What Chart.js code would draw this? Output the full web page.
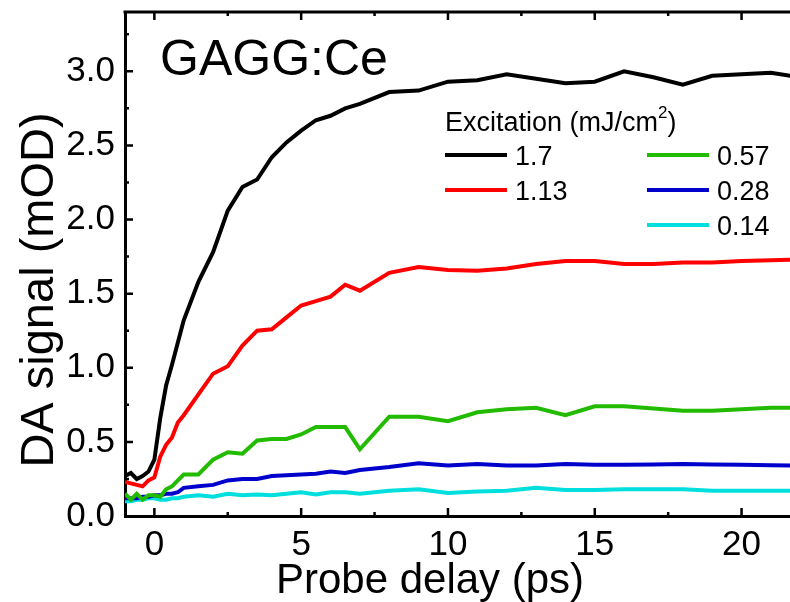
<!DOCTYPE html>
<html lang="en">
<head>
    <meta charset="UTF-8">
    <title>GAGG:Ce DA signal</title>
    <script src="https://cdn.jsdelivr.net/npm/chart.js@4.4.1/dist/chart.umd.min.js"></script>
    <style>
        body { margin: 0; background: #fff; }
    </style>
</head>
<body>
    <canvas id="daChart" width="790" height="602"></canvas>

    <script>
        // probe delay in ps, shared by all series
        const delay = [-1, -0.8, -0.6, -0.4, -0.2, 0, 0.2, 0.4, 0.6, 0.8, 1, 1.5, 2, 2.5, 3, 3.5, 4, 4.5, 5, 5.5,
                       6, 6.5, 7, 8, 9, 10, 11, 12, 13, 14, 15, 16, 17, 18, 19, 20, 21, 22];

        // DA signal (mOD) for each excitation fluence
        const sig170 = [0.27, 0.29, 0.25, 0.27, 0.30, 0.38, 0.66, 0.88, 1.02, 1.17, 1.32, 1.58, 1.78, 2.06, 2.22, 2.27, 2.42, 2.52, 2.60, 2.67,
                        2.70, 2.75, 2.78, 2.86, 2.87, 2.93, 2.94, 2.98, 2.95, 2.92, 2.93, 3.00, 2.96, 2.91, 2.97, 2.98, 2.99, 2.96];
        const sig113 = [0.23, 0.22, 0.21, 0.20, 0.24, 0.26, 0.40, 0.48, 0.53, 0.63, 0.68, 0.82, 0.96, 1.01, 1.15, 1.25, 1.26, 1.34, 1.42, 1.45,
                        1.48, 1.56, 1.52, 1.64, 1.68, 1.66, 1.655, 1.67, 1.70, 1.72, 1.72, 1.70, 1.70, 1.71, 1.71, 1.72, 1.725, 1.73];
        const sig057 = [0.15, 0.11, 0.15, 0.11, 0.14, 0.14, 0.13, 0.18, 0.20, 0.24, 0.28, 0.28, 0.38, 0.43, 0.42, 0.51, 0.52, 0.52, 0.55, 0.60,
                        0.60, 0.60, 0.45, 0.67, 0.67, 0.64, 0.70, 0.72, 0.73, 0.68, 0.74, 0.74, 0.725, 0.71, 0.71, 0.72, 0.73, 0.73];
        const sig028 = [0.12, 0.12, 0.12, 0.13, 0.13, 0.14, 0.14, 0.15, 0.15, 0.16, 0.19, 0.20, 0.21, 0.24, 0.25, 0.25, 0.27, 0.275, 0.28, 0.285,
                        0.30, 0.29, 0.31, 0.33, 0.355, 0.34, 0.35, 0.34, 0.34, 0.35, 0.345, 0.345, 0.348, 0.35, 0.347, 0.345, 0.343, 0.34];
        const sig014 = [0.10, 0.10, 0.11, 0.11, 0.12, 0.12, 0.11, 0.11, 0.12, 0.12, 0.13, 0.14, 0.13, 0.15, 0.14, 0.145, 0.14, 0.15, 0.16, 0.145,
                        0.16, 0.16, 0.15, 0.17, 0.18, 0.155, 0.165, 0.17, 0.19, 0.175, 0.175, 0.18, 0.18, 0.18, 0.17, 0.17, 0.17, 0.17];

        const seriesLabels = ["1.7", "1.13", "0.57", "0.28", "0.14"];
        const seriesColors = ["#000000", "#ff0000", "#22bb00", "#0000cc", "#00dede"];
        const seriesValues = [sig170, sig113, sig057, sig028, sig014];

        const xTicks = [0, 5, 10, 15, 20];
        const yTicks = [0, 0.5, 1.0, 1.5, 2.0, 2.5, 3.0];

        const FONT = "'Liberation Sans', Arial, sans-serif";

        function toPoints(values) {
            return values.map((v, i) => ({ x: delay[i], y: v }));
        }

        // keep the plot box fixed, whatever the edge labels need
        function noEdgePadding(scale) {
            scale.paddingTop = 0;
            scale.paddingBottom = 0;
            scale.paddingLeft = 0;
            scale.paddingRight = 0;
        }

        // inward ticks, top frame line, titles, sample label and the legend
        const decorations = {
            id: "decorations",
            afterDraw(chart) {
                const { ctx, chartArea: a, scales } = chart;
                const xs = scales.x, ys = scales.y;
                ctx.save();
                ctx.strokeStyle = "#000";
                ctx.lineWidth = 3;
                ctx.beginPath();
                ctx.moveTo(a.left - 1.5, a.top);
                ctx.lineTo(a.right, a.top);
                ctx.stroke();

                ctx.lineWidth = 2.5;
                ctx.beginPath();
                for (let v = 0; v <= 21.6; v += 2.5) {
                    const px = xs.getPixelForValue(v);
                    const len = (v % 5 === 0) ? 8 : 4;
                    ctx.moveTo(px, a.bottom);
                    ctx.lineTo(px, a.bottom - len);
                    ctx.moveTo(px, a.top);
                    ctx.lineTo(px, a.top + len);
                }
                for (let k = 1; k <= 13; k++) {
                    const v = k * 0.25;
                    const py = ys.getPixelForValue(v);
                    const len = (k % 2 === 0) ? 8 : 4;
                    ctx.moveTo(a.left, py);
                    ctx.lineTo(a.left + len, py);
                }
                ctx.stroke();

                ctx.fillStyle = "#000";
                // axis titles
                ctx.font = "42px " + FONT;
                ctx.textAlign = "center";
                ctx.textBaseline = "alphabetic";
                ctx.fillText("Probe delay (ps)", 430, 593);

                ctx.save();
                ctx.translate(53, 290);
                ctx.rotate(-Math.PI / 2);
                ctx.font = "47px " + FONT;
                ctx.fillText("DA signal (mOD)", 0, 0);
                ctx.restore();

                // sample label
                ctx.textAlign = "left";
                ctx.font = "50px " + FONT;
                ctx.fillText("GAGG:Ce", 160, 75);

                // legend
                ctx.font = "27px " + FONT;
                const head = "Excitation (mJ/cm";
                ctx.fillText(head, 445, 131);
                let hx = 445 + ctx.measureText(head).width;
                ctx.font = "17px " + FONT;
                ctx.fillText("2", hx, 118);
                hx += ctx.measureText("2").width;
                ctx.font = "27px " + FONT;
                ctx.fillText(")", hx, 131);

                const slots = [[445, 155], [445, 190], [647, 155], [647, 190], [647, 225]];
                ctx.font = "27px " + FONT;
                ctx.lineWidth = 4;
                chart.data.datasets.forEach((ds, i) => {
                    const [lx, ly] = slots[i];
                    ctx.strokeStyle = ds.borderColor;
                    ctx.beginPath();
                    ctx.moveTo(lx, ly);
                    ctx.lineTo(lx + 62, ly);
                    ctx.stroke();
                    ctx.fillStyle = "#000";
                    ctx.fillText(ds.label, lx + 70, ly + 10);
                });
                ctx.restore();
            }
        };

        const ctx = document.getElementById("daChart").getContext("2d");

        const chart = new Chart(ctx, {
            type: "scatter",
            data: {
                datasets: seriesValues.map((vals, i) => ({
                    label: seriesLabels[i],
                    data: toPoints(vals),
                    showLine: true,
                    borderColor: seriesColors[i],
                    backgroundColor: seriesColors[i],
                    borderWidth: 4,
                    pointRadius: 0,
                    tension: 0
                }))
            },
            options: {
                responsive: false,
                animation: false,
                layout: { padding: { top: 12, left: 0, right: 0, bottom: 0 } },
                plugins: {
                    legend: { display: false },
                    tooltip: { enabled: false }
                },
                scales: {
                    x: {
                        type: "linear",
                        min: -1,
                        max: 21.65,
                        afterFit(scale) { scale.height = 86; noEdgePadding(scale); },
                        afterBuildTicks(scale) { scale.ticks = xTicks.map(v => ({ value: v })); },
                        grid: { display: false, drawTicks: false },
                        border: { display: true, color: "#000", width: 3 },
                        ticks: {
                            color: "#000",
                            padding: 8,
                            maxRotation: 0,
                            font: { family: FONT, size: 35 },
                            callback: v => String(v)
                        }
                    },
                    y: {
                        min: 0,
                        max: 3.4,
                        afterFit(scale) { scale.width = 125; noEdgePadding(scale); },
                        afterBuildTicks(scale) { scale.ticks = yTicks.map(v => ({ value: v })); },
                        grid: { display: false, drawTicks: false },
                        border: { display: true, color: "#000", width: 3 },
                        ticks: {
                            color: "#000",
                            padding: 10,
                            font: { family: FONT, size: 35 },
                            callback: v => Number(v).toFixed(1)
                        }
                    }
                }
            },
            plugins: [decorations]
        });
    </script>
</body>
</html>
